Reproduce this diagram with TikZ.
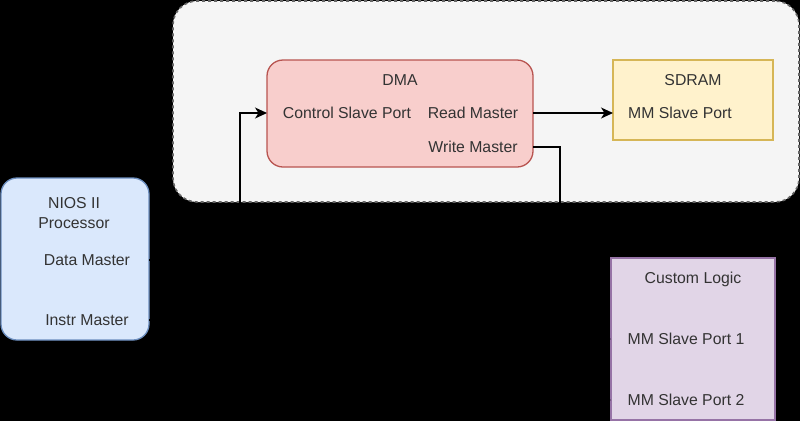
\documentclass[tikz,border=0pt]{standalone}
\usepackage{fontspec}
\setmainfont{Liberation Sans}
\usetikzlibrary{positioning}
\usetikzlibrary{arrows.meta}

\definecolor{groupfill}{HTML}{F5F5F5}
\definecolor{groupline}{HTML}{666666}
\definecolor{niosfill}{HTML}{DAE8FC}
\definecolor{niosline}{HTML}{6C8EBF}
\definecolor{dmafill}{HTML}{F8CECC}
\definecolor{dmaline}{HTML}{B85450}
\definecolor{ramfill}{HTML}{FFF2CC}
\definecolor{ramline}{HTML}{D6B656}
\definecolor{logicfill}{HTML}{E1D5E7}
\definecolor{logicline}{HTML}{9673A6}
\definecolor{labeltext}{HTML}{333333}

\begin{document}
\begin{tikzpicture}[x=1pt,y=-1pt,
  box/.style={draw,line width=1.3pt,inner sep=0pt,outer sep=0pt},
  lbl/.style={text=labeltext,inner sep=0pt,font=\fontsize{15.8}{19}\selectfont},
  link/.style={draw=black,line width=1.2pt,-{Stealth[length=12pt,width=11pt,inset=3.5pt]}}]
 \fill[black](0,0) rectangle (800,421);
 \useasboundingbox (0,0) rectangle (800,421);
 % dashed group round DMA and SDRAM
 \node[box,draw=groupline,fill=groupfill,dash pattern=on 3pt off 3pt,line width=1.6pt,rounded corners=24pt,
   minimum width=626pt,minimum height=201pt] (group) at (486,101.5) {};
 % blocks
 \node[box,draw=niosline,fill=niosfill,rounded corners=16pt,
   minimum width=148pt,minimum height=162pt] (nios) at (75,259) {};
 \node[box,draw=dmaline,fill=dmafill,rounded corners=16pt,
   minimum width=266pt,minimum height=107pt] (dma) at (400,113.5) {};
 \node[box,draw=ramline,fill=ramfill,
   minimum width=160pt,minimum height=80pt] (sdram) at (693,100) {};
 \node[box,draw=logicline,fill=logicfill,
   minimum width=164pt,minimum height=162pt] (logic) at (693,339) {};
 % texts
 \node[lbl] (niosname) at (74,203) {NIOS II};
 \node[lbl] (niosproc) at (74,223) {Processor};
 \node[lbl] (data) at (87,260) {Data Master};
 \node[lbl] (instr) at (87,320) {Instr Master};
 \node[lbl] (dmaname) at (400,80) {DMA};
 \node[lbl] (ctl) at (347,113) {Control Slave Port};
 \node[lbl] (rd) at (473,113) {Read Master};
 \node[lbl] (wr) at (473,147) {Write Master};
 \node[lbl] (ramname) at (693,80) {SDRAM};
 \node[lbl] (ramport) at (680,113) {MM Slave Port};
 \node[lbl] (logicname) at (693,279) {Custom Logic};
 \node[lbl] (port1) at (686,339) {MM Slave Port 1};
 \node[lbl] (port2) at (686,400) {MM Slave Port 2};
 % connectors
 \coordinate (ctlbend) at (240,260);
 \coordinate (instrbend) at (380,320);
 \coordinate (wrbend) at (560,147);
 \draw[link](nios.east |- data)--(ctlbend) |- (dma.west |- ctl);
 \draw[link](dma.east |- rd)--(sdram.west |- ramport);
 \draw[link](nios.east |- instr)--(instrbend) |- (logic.west |- port1);
 \draw[link](dma.east |- wr)--(wrbend) |- (logic.west |- port2);
\end{tikzpicture}
\end{document}
